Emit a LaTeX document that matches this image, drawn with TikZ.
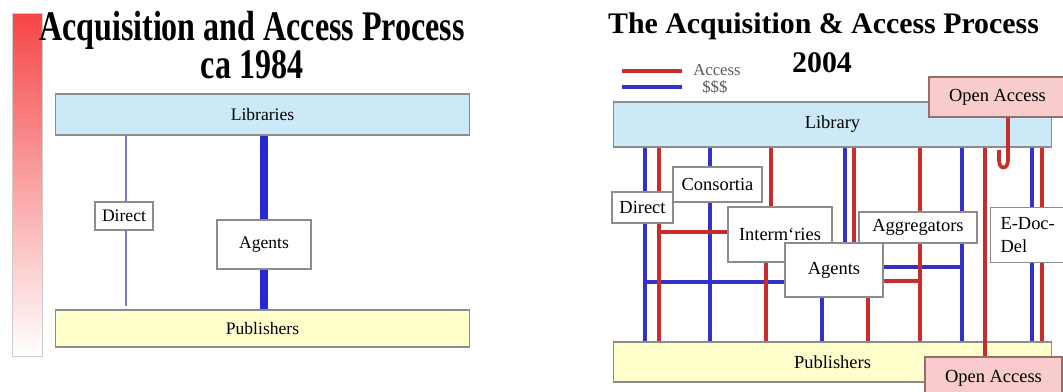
\documentclass[tikz,border=0pt]{standalone}
\usepackage{fontspec}
\setmainfont{Liberation Serif}
\usetikzlibrary{backgrounds}

\definecolor{libblue}{RGB}{204,233,248}
\definecolor{pubyellow}{RGB}{255,255,204}
\definecolor{oapink}{RGB}{248,204,204}
\definecolor{oaedge}{RGB}{150,110,110}
\definecolor{paycol}{RGB}{50,50,200}
\definecolor{acccol}{RGB}{200,45,45}
\definecolor{barred}{RGB}{245,70,70}

\tikzset{
  box/.style={draw=gray!90, line width=0.6pt, fill=white, inner sep=0pt,
    font=\fontsize{10.5}{13.5}\selectfont},
  oabox/.style={box, draw=oaedge, fill=oapink},
  bigtitle/.style={font=\fontsize{24}{26}\selectfont\bfseries},
  title/.style={font=\fontsize{17}{20}\selectfont\bfseries},
  legend/.style={inner sep=0pt, text=gray!70!black, font=\fontsize{9.5}{11}\selectfont},
  paylink/.style={draw=paycol, line width=2.1pt},
  acclink/.style={draw=acccol, line width=2.1pt}
}

\begin{document}
\begin{tikzpicture}[x=0.02cm, y=-0.02cm]
\useasboundingbox (0,0) rectangle (1063,392);

% ca 1984
\shade[top color=barred, bottom color=white, draw=gray!40] (12,13) rectangle (42,356);
\node[bigtitle, anchor=base] (oldtitle) at (252,40) {\scalebox{0.76}[1]{Acquisition and Access Process}};
\node[bigtitle, anchor=base] (oldyear) at (252,78) {\scalebox{0.76}[1]{ca 1984}};

\node[box, fill=libblue, minimum width=8.3cm, minimum height=0.82cm, font=\fontsize{10}{12}\selectfont] (libs) at (262.5,114.5) {Libraries};
\node[box, fill=pubyellow, minimum width=8.3cm, minimum height=0.74cm, font=\fontsize{10}{12}\selectfont] (pubs) at (262.5,328.5) {Publishers};
\node[box, minimum width=1.16cm, minimum height=0.56cm, font=\fontsize{10}{12}\selectfont] (olddirect) at (124,216) {Direct};
\node[box, minimum width=1.88cm, minimum height=0.98cm, font=\fontsize{10}{12}\selectfont] (oldagents) at (264,244.5) {Agents};
\coordinate (directend) at (126,306);

\begin{scope}[on background layer]
\draw[draw={rgb,255:red,120;green,120;blue,215}, line width=0.8pt] (libs.south -| directend) -- (directend);
\draw[draw={rgb,255:red,40;green,40;blue,210}, line width=5pt] (libs.south -| oldagents) -- (pubs.north -| oldagents);
\end{scope}

% 2004
\node[title, anchor=base] (newtitle) at (823.5,33) {The Acquisition \& Access Process};
\node[title, anchor=base] (newyear) at (822,72) {2004};

\coordinate (accA) at (622,71);
\coordinate (accB) at (682,71);
\coordinate (payA) at (622,87);
\coordinate (payB) at (682,87);
\draw[acclink] (accA) -- (accB);
\draw[paylink] (payA) -- (payB);
\node[legend, anchor=base west] (acclabel) at (693,75) {Access};
\node[legend, anchor=base west] (paylabel) at (702,92) {\$\$\$};

\node[box, fill=libblue, minimum width=8.78cm, minimum height=0.9cm] (lib) at (832.5,124.5) {Library};
\node[box, fill=pubyellow, minimum width=8.78cm, minimum height=0.8cm] (pub) at (832.5,362) {Publishers};
\node[oabox, minimum width=2.74cm, minimum height=0.8cm] (oatop) at (997.5,97) {Open Access};
\node[oabox, minimum width=2.74cm, minimum height=0.84cm] (oabot) at (993.5,378) {Open Access};

\node[box, minimum width=1.78cm, minimum height=0.7cm] (cons) at (717.5,184.5) {Consortia};
\node[box, minimum width=1.22cm, minimum height=0.62cm] (direct) at (642.5,207.5) {Direct};
\node[box, minimum width=2.08cm, minimum height=1.1cm] (interm) at (780,234.5) {Interm`ries};
\node[box, minimum width=2.36cm, minimum height=0.62cm] (aggr) at (918,227.5) {Aggregators};
\node[box, minimum width=1.96cm, minimum height=1.08cm] (agents) at (834,270) {Agents};
\node[box, anchor=north west, text width=1.3cm, align=left, minimum height=1.1cm, inner xsep=0.2cm] (edd) at (990,207) {E-Doc-\\Del};

\begin{scope}[on background layer]
% $$$
\draw[paylink] (lib.south -| 645,0) -- (pub.north -| 645,0);
\draw[paylink] (lib.south -| 710,0) -- (pub.north -| 710,0);
\draw[paylink] (lib.south -| 845,0) -- (agents.north -| 845,0);
\draw[paylink] (agents.south -| 822,0) -- (pub.north -| 822,0);
\draw[paylink] (lib.south -| 962,0) -- (pub.north -| 962,0);
\draw[paylink] (lib.south -| 1032,0) -- (pub.north -| 1032,0);
\draw[paylink] (agents.west |- 0,282) -- (645,282);
\draw[paylink] (agents.east |- 0,267) -- (962,267);
% access
\draw[acclink] (lib.south -| 659,0) -- (pub.north -| 659,0);
\draw[acclink] (lib.south -| 771,0) -- (interm.north -| 771,0);
\draw[acclink] (interm.south -| 766,0) -- (pub.north -| 766,0);
\draw[acclink] (lib.south -| 854,0) -- (agents.north -| 854,0);
\draw[acclink] (agents.south -| 868,0) -- (pub.north -| 868,0);
\draw[acclink] (lib.south -| 920,0) -- (pub.north -| 920,0);
\draw[acclink] (lib.south -| 1042,0) -- (pub.north -| 1042,0);
\draw[acclink] (interm.west |- 0,232) -- (659,232);
\draw[acclink] (agents.east |- 0,281) -- (920,281);
\end{scope}

\draw[acclink] (lib.south -| 985,0) -- (oabot.north -| 985,0);
\draw[acclink] (oatop.south -| 1008,0) -- (1008,160) .. controls (1008,170) and (999,170) .. (999,160) -- (999,150);
\end{tikzpicture}
\end{document}
